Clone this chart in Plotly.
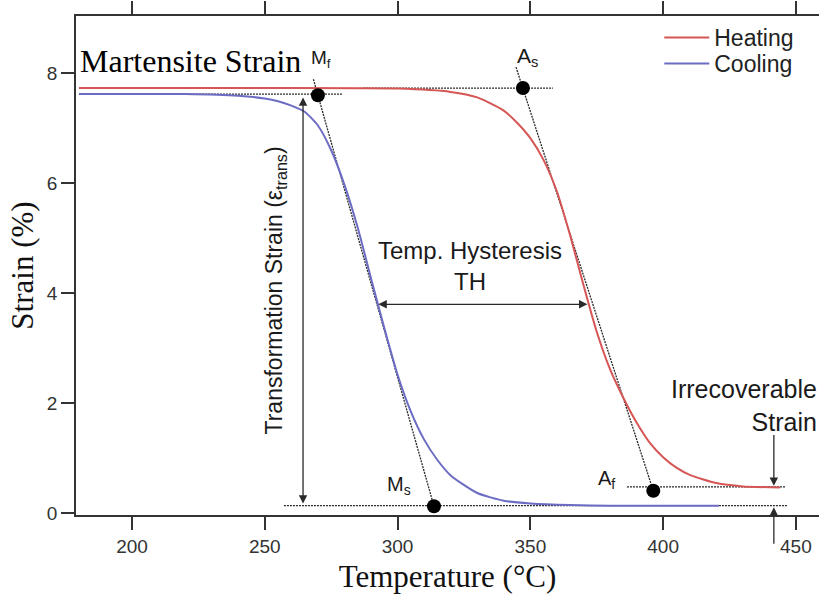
import plotly.graph_objects as go

# ---------------- data ----------------
heat_T = [180, 250, 300, 320, 330, 340, 345, 350, 355, 360, 365, 370, 375, 380,
          385, 390, 395, 400, 405, 410, 420, 430, 444]
heat_S = [7.73, 7.73, 7.72, 7.66, 7.56, 7.32, 7.10, 6.82, 6.42, 5.85, 5.05, 4.15,
          3.30, 2.62, 2.10, 1.65, 1.28, 1.02, 0.83, 0.70, 0.55, 0.49, 0.47]

cool_T = [180, 220, 240, 250, 255, 260, 265, 270, 275, 280, 285, 290, 295, 300,
          305, 310, 315, 320, 330, 340, 350, 365, 380, 400, 421]
cool_S = [7.62, 7.62, 7.59, 7.54, 7.49, 7.41, 7.30, 7.05, 6.60, 5.97, 5.19, 4.27,
          3.37, 2.52, 1.85, 1.34, 0.97, 0.69, 0.37, 0.23, 0.18, 0.15, 0.14, 0.14, 0.14]

# characteristic points (Mf, Ms, As, Af)
pt_names = ["Mf", "Ms", "As", "Af"]
pt_T = [270.0, 313.7, 347.2, 396.3]
pt_S = [7.60, 0.13, 7.73, 0.41]

# tangent construction lines
tan_cool_T = [268.3, 313.7]
tan_cool_S = [7.89, 0.13]
tan_heat_T = [344.6, 396.3]
tan_heat_S = [8.11, 0.41]

# horizontal reference (dotted) lines: (T start, T end, strain)
hlines = [(206.0, 279.4, 7.62), (287.0, 358.5, 7.73),
          (257.2, 446.6, 0.14), (386.4, 446.0, 0.48)]

x_ticks = [200, 250, 300, 350, 400, 450]
y_ticks = [0, 2, 4, 6, 8]

RED = "#d65656"
BLUE = "#6c6cc4"
DARK = "#2a2a2a"
SANS = "Liberation Sans, Arial, sans-serif"
SERIF = "Liberation Serif, Times New Roman, serif"

fig = go.Figure()

# dotted helpers first (under curves)
for (t0, t1, s) in hlines:
    fig.add_trace(go.Scatter(x=[t0, t1], y=[s, s], mode="lines",
                             line=dict(color=DARK, width=1.3, dash="2px,1px"),
                             showlegend=False, hoverinfo="skip"))
for tx, sy in [(tan_cool_T, tan_cool_S), (tan_heat_T, tan_heat_S)]:
    fig.add_trace(go.Scatter(x=tx, y=sy, mode="lines",
                             line=dict(color=DARK, width=1.3, dash="2px,1px"),
                             showlegend=False, hoverinfo="skip"))

fig.add_trace(go.Scatter(x=heat_T, y=heat_S, mode="lines", name="Heating",
                         legend="legend",
                         line=dict(color=RED, width=2, shape="spline", smoothing=0.6)))
fig.add_trace(go.Scatter(x=cool_T, y=cool_S, mode="lines", name="Cooling",
                         legend="legend2",
                         line=dict(color=BLUE, width=2, shape="spline", smoothing=0.6)))

fig.add_trace(go.Scatter(x=pt_T, y=pt_S, mode="markers", text=pt_names,
                         marker=dict(color="black", size=14),
                         showlegend=False, hoverinfo="text"))

ann = []
def arrow(x, y, ax, ay, both=False):
    ann.append(dict(x=x, y=y, ax=ax, ay=ay, xref="x", yref="y", axref="x", ayref="y",
                    text="", showarrow=True, arrowhead=2, startarrowhead=2,
                    arrowsize=1.3, startarrowsize=1.3, arrowwidth=1.3,
                    arrowcolor=DARK, arrowside="end+start" if both else "end"))

arrow(264.4, 7.56, 264.4, 0.15, both=True)     # transformation strain
arrow(371.5, 3.80, 292.2, 3.80, both=True)     # hysteresis
arrow(441.7, 0.50, 441.7, 1.45)                # irrecoverable (down)
arrow(441.7, 0.11, 441.7, -0.58)               # irrecoverable (up)

def label(txt, x, y, size, family=SANS, xanchor="center", angle=0, color="#1a1a1a",
          align="center"):
    ann.append(dict(x=x, y=y, xref="x", yref="y", text=txt, showarrow=False,
                    xanchor=xanchor, yanchor="middle", textangle=angle, align=align,
                    font=dict(family=family, size=size, color=color)))

label("Martensite Strain", 179.6, 8.22, 32, family=SERIF, xanchor="left", color="black")
label("M<sub>f</sub>", 271.0, 8.25, 19)
label("A<sub>s</sub>", 349.0, 8.30, 21)
label("M<sub>s</sub>", 300.5, 0.50, 20)
label("A<sub>f</sub>", 378.5, 0.62, 20)
label("Temp. Hysteresis<br>TH", 327.3, 4.50, 24)
label("Irrecoverable<br>Strain", 458.6, 1.96, 25, xanchor="right", align="right")
label("Transformation Strain (ε<sub>trans</sub>)", 254.2, 4.05, 23, angle=-90)

axis_common = dict(showline=True, linewidth=1.5, linecolor="#333", ticks="outside",
                   ticklen=13, tickwidth=1.5, tickcolor="#333", showgrid=False,
                   zeroline=False, tickfont=dict(family=SANS, size=19, color="#333"))

leg_common = dict(xanchor="left", yanchor="top",
                  font=dict(family=SANS, size=23, color="#222"),
                  bgcolor="rgba(0,0,0,0)", itemwidth=45)

fig.update_layout(
    width=819, height=601,
    margin=dict(l=76, r=0, t=16, b=86),
    plot_bgcolor="white", paper_bgcolor="white",
    xaxis=dict(range=[178.9, 458.7], tickvals=x_ticks, mirror="ticks",
               title=dict(text="Temperature (°C)", standoff=10,
                          font=dict(family=SERIF, size=31, color="#111")),
               **axis_common),
    yaxis=dict(range=[-0.03, 9.04], tickvals=y_ticks,
               title=dict(text="Strain (%)", standoff=4,
                          font=dict(family=SERIF, size=31, color="#111")),
               **axis_common),
    legend=dict(x=0.785, y=1.0, **leg_common),
    legend2=dict(x=0.785, y=0.948, **leg_common),
    annotations=ann,
)

fig.write_html("out.html")
